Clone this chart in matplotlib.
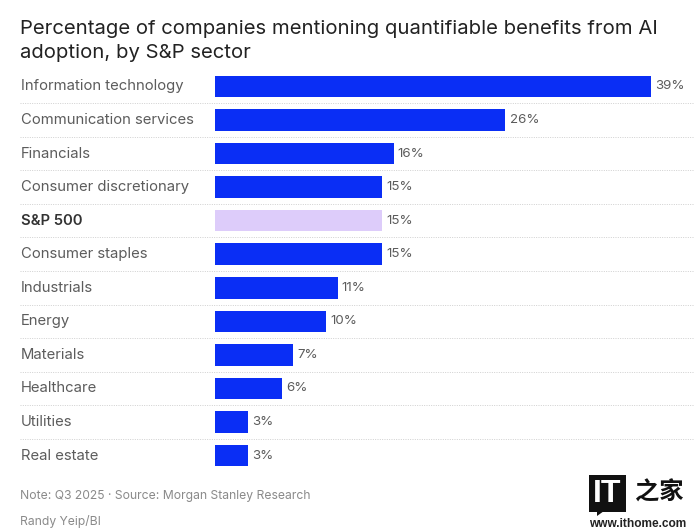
import matplotlib
matplotlib.use("Agg")
import matplotlib.pyplot as plt
from matplotlib.patches import Rectangle, Polygon
from matplotlib.transforms import blended_transform_factory

sectors = ["Information technology", "Communication services", "Financials",
           "Consumer discretionary", "S&P 500", "Consumer staples", "Industrials",
           "Energy", "Materials", "Healthcare", "Utilities", "Real estate"]
values = [39, 26, 16, 15, 15, 15, 11, 10, 7, 6, 3, 3]
highlight = "S&P 500"
title = "Percentage of companies mentioning quantifiable benefits from AI\nadoption, by S&P sector"
note = "Note: Q3 2025 \u00b7 Source: Morgan Stanley Research"
credit = "Randy Yeip/BI"

W, H = 694, 532
plt.rcParams['font.family'] = ['Inter', 'DejaVu Sans']
fig = plt.figure(figsize=(W/100, H/100), dpi=100, facecolor="white")

# axes spanning the plot band; x=0 at the bar baseline
left, right, top, bottom = 214.5, 694, 69.7, 472.3
ax = fig.add_axes([left/W, 1-bottom/H, (right-left)/W, (bottom-top)/H])
ax.set_xlim(0, (right-left)/11.19)
ax.set_ylim(len(sectors)-0.5, -0.5)
ax.axis("off")

colors = ["#DDCCFA" if s == highlight else "#0A2EF5" for s in sectors]
ypos = range(len(sectors))
ax.barh(list(ypos), values, height=0.64, color=colors, linewidth=0, zorder=3)

fx = blended_transform_factory(fig.transFigure, ax.transData)
for i, (s, v) in enumerate(zip(sectors, values)):
    ax.text(21/W, i, s, transform=fx, ha="left", va="center", fontsize=10.7,
            color="#333333" if s == highlight else "#5c5c5c",
            fontweight="semibold" if s == highlight else "normal")
    ax.annotate(f"{v}%", (v, i), xytext=(3.0, 0), textcoords="offset points",
                ha="left", va="center", fontsize=9.6, color="#5c5c5c")
    if i < len(sectors)-1:
        ax.plot([20/W, 1], [i+0.5, i+0.5], transform=fx, color="#cfcfcf", lw=0.7,
                ls=(0, (1, 1.4)), clip_on=False, zorder=1)

fig.text(20/W, 1-28.5/H, title.split("\n")[0], fontsize=14.6, color="#222222", va="center", ha="left")
fig.text(20/W, 1-53.5/H, title.split("\n")[1], fontsize=14.6, color="#222222", va="center", ha="left")
fig.text(20/W, 1-496/H, note, fontsize=8.75, color="#8a8a8a", va="center", ha="left")
fig.text(20/W, 1-522/H, credit, fontsize=8.75, color="#8a8a8a", va="center", ha="left")

# watermark
fig.add_artist(Rectangle((589/W, 1-512/H), 37/W, 37/H, transform=fig.transFigure, color="#111111", lw=0))
fig.add_artist(Polygon([(597/W, 1-511/H), (604/W, 1-511/H), (597/W, 1-516/H)], transform=fig.transFigure, color="#111111", lw=0))
fig.text(607.5/W, 1-494/H, "IT", fontsize=23, fontweight="bold", color="white", ha="center", va="center", family="Liberation Sans")
fig.text(659/W, 1-493/H, "之家", fontsize=17.5, fontweight="bold", color="#111111", ha="center", va="center", family="Noto Sans CJK SC")
fig.text(638/W, 1-524/H, "www.ithome.com", fontsize=8.6, fontweight="bold", color="#222222", ha="center", va="center", family="Liberation Sans")

fig.savefig("out.png", dpi=100, facecolor="white")
